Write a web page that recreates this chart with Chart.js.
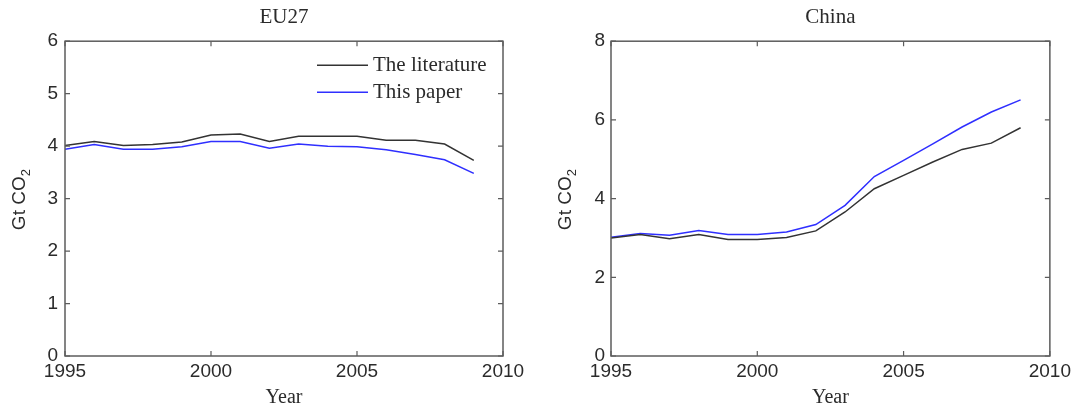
<!DOCTYPE html>
<html>
<head>
<meta charset="utf-8">
<script src="https://cdn.jsdelivr.net/npm/chart.js@4.4.0/dist/chart.umd.min.js"></script>
<style>
  html, body { margin: 0; padding: 0; background: #fff; overflow: hidden; }
  canvas { position: absolute; top: 0; }
  #eu { left: 0; }
  #cn { left: 537px; }
</style>
</head>
<body>
<canvas id="eu" width="537" height="404"></canvas>
<canvas id="cn" width="538" height="404"></canvas>
<script>
// Annual CO2 emissions, Gt CO2
const years = [1995, 1996, 1997, 1998, 1999, 2000, 2001, 2002, 2003, 2004, 2005, 2006, 2007, 2008, 2009];

const eu27Literature = [4.01, 4.09, 4.01, 4.03, 4.08, 4.21, 4.23, 4.09, 4.19, 4.19, 4.19, 4.11, 4.11, 4.04, 3.73];
const eu27ThisPaper  = [3.94, 4.03, 3.94, 3.94, 3.99, 4.09, 4.09, 3.96, 4.04, 4.00, 3.99, 3.93, 3.84, 3.74, 3.48];

const chinaLiterature = [3.00, 3.09, 2.98, 3.09, 2.96, 2.96, 3.01, 3.18, 3.66, 4.25, 4.59, 4.93, 5.25, 5.41, 5.80];
const chinaThisPaper  = [3.02, 3.11, 3.07, 3.19, 3.09, 3.09, 3.15, 3.34, 3.83, 4.56, 4.97, 5.39, 5.82, 6.20, 6.51];

const seriesNames = ['The literature', 'This paper'];

const xTicks = [1995, 2000, 2005, 2010];
const eu27YTicks = [0, 1, 2, 3, 4, 5, 6];
const chinaYTicks = [0, 2, 4, 6, 8];

const SANS = '"Liberation Sans", Arial, sans-serif';
const SERIF = '"Liberation Serif", "Times New Roman", serif';
const AXIS_COLOR = '#5c5c5c';
const TEXT_COLOR = '#2b2b2b';
const LIT_COLOR = '#333333';
const PAPER_COLOR = '#2f2fff';

// Box frame, inward tick marks, y-axis title with subscript and inset legend
const framePlugin = {
  id: 'frame',
  afterDatasetsDraw(chart, args, opts) {
    const { ctx, chartArea: a, scales: { x, y } } = chart;
    ctx.save();
    ctx.strokeStyle = AXIS_COLOR;
    ctx.lineWidth = 1.5;
    ctx.strokeRect(a.left, a.top, a.right - a.left, a.bottom - a.top);

    ctx.lineWidth = 1.2;
    ctx.beginPath();
    x.ticks.forEach(t => {
      const px = x.getPixelForValue(t.value);
      ctx.moveTo(px, a.bottom); ctx.lineTo(px, a.bottom - 5);
      ctx.moveTo(px, a.top); ctx.lineTo(px, a.top + 5);
    });
    y.ticks.forEach(t => {
      const py = y.getPixelForValue(t.value);
      ctx.moveTo(a.left, py); ctx.lineTo(a.left + 5, py);
      ctx.moveTo(a.right, py); ctx.lineTo(a.right - 5, py);
    });
    ctx.stroke();

    // "Gt CO2" rotated title
    ctx.fillStyle = TEXT_COLOR;
    ctx.translate(a.left - 40, (a.top + a.bottom) / 2 + 1);
    ctx.rotate(-Math.PI / 2);
    ctx.textBaseline = 'alphabetic';
    ctx.font = '19px ' + SANS;
    const main = 'Gt CO';
    const w1 = ctx.measureText(main).width;
    ctx.font = '13px ' + SANS;
    const w2 = ctx.measureText('2').width;
    const start = -(w1 + w2) / 2;
    ctx.font = '19px ' + SANS;
    ctx.textAlign = 'left';
    ctx.fillText(main, start, 0);
    ctx.font = '13px ' + SANS;
    ctx.fillText('2', start + w1, 5);
    ctx.setTransform(1, 0, 0, 1, 0, 0);

    if (opts.legend) {
      const lx0 = a.right - 186, lx1 = a.right - 135, tx = a.right - 130;
      const rows = [a.top + 24, a.top + 51];
      ctx.font = '21px ' + SERIF;
      ctx.textAlign = 'left';
      ctx.textBaseline = 'middle';
      chart.data.datasets.forEach((ds, i) => {
        ctx.strokeStyle = ds.borderColor;
        ctx.lineWidth = ds.borderWidth;
        ctx.beginPath();
        ctx.moveTo(lx0, rows[i]); ctx.lineTo(lx1, rows[i]);
        ctx.stroke();
        ctx.fillStyle = TEXT_COLOR;
        ctx.fillText(ds.label, tx, rows[i]);
      });
    }
    ctx.restore();
  }
};

function points(values) {
  return years.map((yr, i) => ({ x: yr, y: values[i] }));
}

function makeChart(id, title, literature, thisPaper, yTicks, yWidth, padRight, tickPad, showLegend) {
  return new Chart(document.getElementById(id), {
    type: 'line',
    data: {
      datasets: [
        { label: seriesNames[0], data: points(literature), borderColor: LIT_COLOR, borderWidth: 1.5, pointRadius: 0, tension: 0, fill: false },
        { label: seriesNames[1], data: points(thisPaper), borderColor: PAPER_COLOR, borderWidth: 1.5, pointRadius: 0, tension: 0, fill: false }
      ]
    },
    options: {
      responsive: false,
      animation: false,
      layout: { padding: { left: 0, right: padRight, top: 0, bottom: 0 } },
      plugins: {
        legend: { display: false },
        tooltip: { enabled: false },
        title: {
          display: true, text: title, fullSize: false, color: TEXT_COLOR,
          font: { family: SERIF, size: 21, weight: 'normal', lineHeight: 1.2 },
          padding: { top: 5, bottom: 11 }
        },
        frame: { legend: showLegend }
      },
      scales: {
        x: {
          type: 'linear', min: xTicks[0], max: xTicks[xTicks.length - 1],
          afterBuildTicks: s => { s.ticks = xTicks.map(v => ({ value: v })); },
          afterFit: s => { s.height = 48; },
          grid: { display: false, drawTicks: false },
          border: { display: false },
          ticks: {
            color: TEXT_COLOR, padding: 4, maxRotation: 0, autoSkip: false,
            font: { family: SANS, size: 19 },
            callback: v => String(v)
          },
          title: {
            display: true, text: 'Year', color: TEXT_COLOR, padding: 0,
            font: { family: SERIF, size: 20, lineHeight: 0.6 }
          }
        },
        y: {
          min: yTicks[0], max: yTicks[yTicks.length - 1],
          afterBuildTicks: s => { s.ticks = yTicks.map(v => ({ value: v })); },
          afterFit: s => { s.width = yWidth; },
          grid: { display: false, drawTicks: false },
          border: { display: false },
          ticks: {
            color: TEXT_COLOR, padding: tickPad,
            font: { family: SANS, size: 19 }
          }
        }
      }
    },
    plugins: [framePlugin]
  });
}

makeChart('eu', 'EU27', eu27Literature, eu27ThisPaper, eu27YTicks, 65, 34, 7, true);
makeChart('cn', 'China', chinaLiterature, chinaThisPaper, chinaYTicks, 74, 25, 6, false);
</script>
</body>
</html>
